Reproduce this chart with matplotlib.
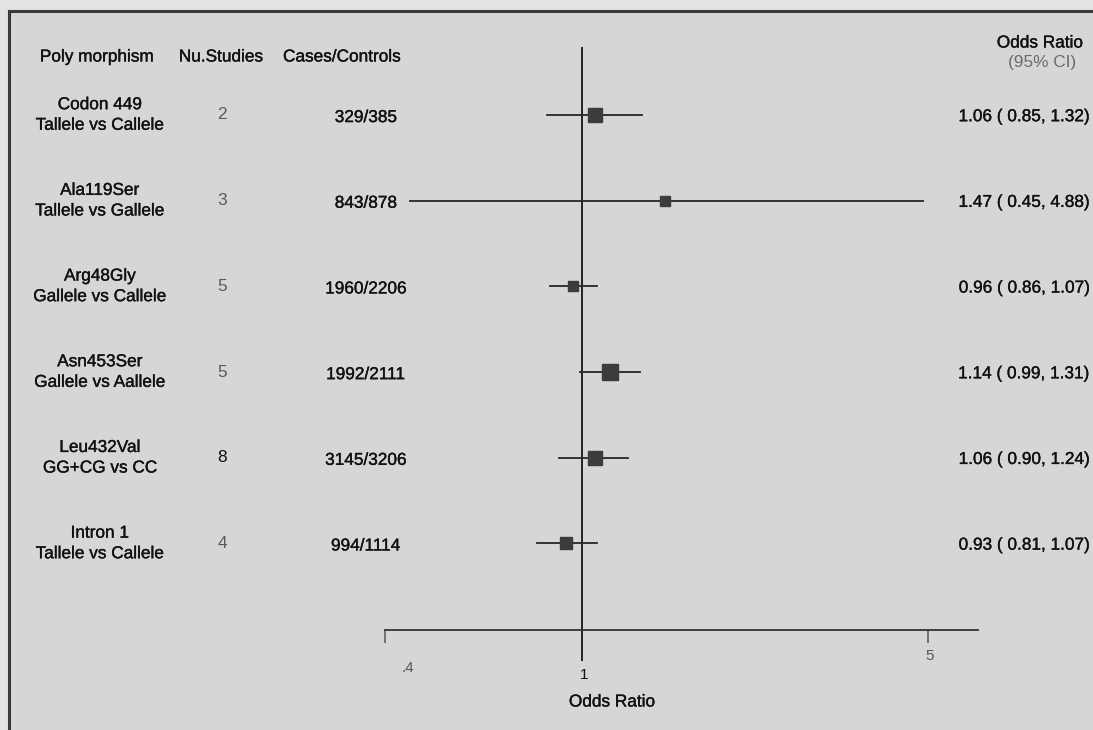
import matplotlib.pyplot as plt
import matplotlib.patheffects as pe
from matplotlib.transforms import blended_transform_factory
from matplotlib.lines import Line2D

plt.rcParams['font.family'] = ['Liberation Sans', 'DejaVu Sans']

# Meta-analysis summary, one entry per polymorphism
snp_names = ['Codon 449', 'Ala119Ser', 'Arg48Gly', 'Asn453Ser', 'Leu432Val', 'Intron 1']
contrasts = ['Tallele vs Callele', 'Tallele vs Gallele', 'Gallele vs Callele',
             'Gallele vs Aallele', 'GG+CG vs CC', 'Tallele vs Callele']
n_studies = [2, 3, 5, 5, 8, 4]
cases_controls = ['329/385', '843/878', '1960/2206', '1992/2111', '3145/3206', '994/1114']
odds_ratio = [1.06, 1.47, 0.96, 1.14, 1.06, 0.93]
ci_low = [0.85, 0.45, 0.86, 0.99, 0.90, 0.81]
ci_high = [1.32, 4.88, 1.07, 1.31, 1.24, 1.07]
box_px = [15, 10, 11, 16, 15, 13]   # square side in pixels (study weight)
count_colors = ['#5a5a5a', '#5a5a5a', '#5a5a5a', '#5a5a5a', '#111111', '#5a5a5a']

W, H = 1093, 730
fig = plt.figure(figsize=(W / 100, H / 100), dpi=100)
fig.patch.set_facecolor('#e3e3e3')

# panel background and its left/top border
fig.patches.append(plt.Rectangle((9 / W, 0), 1, (H - 11) / H, transform=fig.transFigure,
                                 facecolor='#d6d6d6', edgecolor='none', zorder=-5))
fig.add_artist(Line2D([9 / W, 9 / W], [0, (H - 11) / H], color='#3a3a3a', lw=2.2))
fig.add_artist(Line2D([9 / W, 1], [(H - 11) / H, (H - 11) / H], color='#3a3a3a', lw=2.2))

# forest panel: axis line at y=630px, spans x 385..978px
ax = fig.add_axes([385 / W, (H - 630) / H, (978 - 385) / W, (630 - 40) / H])
ax.set_zorder(2)
ax.set_facecolor('none')
ax.set_xscale('log')
ax.set_xlim(0.4, 6.3)
ax.set_ylim(6.01, -0.875)
for s in ['top', 'right', 'left']:
    ax.spines[s].set_visible(False)
ax.spines['bottom'].set_color('#333333')
ax.spines['bottom'].set_linewidth(1.3)
ax.set_yticks([])
ax.set_xticks([0.4, 5])
ax.xaxis.set_minor_locator(plt.NullLocator())
ax.tick_params(axis='x', direction='out', length=9, width=1.1, color='#555555', labelbottom=False)

# line of no effect
ax.axvline(1, ymin=-0.051, ymax=0.986, color='#222222', lw=1.4, clip_on=False)

rows = list(range(len(snp_names)))
for i in rows:
    ax.plot([ci_low[i], ci_high[i]], [i, i], color='#262626', lw=1.3, zorder=2)
    ax.plot(odds_ratio[i], i, marker='s', ms=box_px[i] / 1.389, color='#3c3c3c',
            mec='#3c3c3c', zorder=3)

fs = 12.4
# slightly heavier strokes for the table text
heavy = [pe.withStroke(linewidth=0.25, foreground='#111111')]

# x tick labels
for val, lab, dx, dy in [(0.4, '.4', 23, -38), (1, '1', 2, -45), (5, '5', 1, -26)]:
    ax.annotate(lab, xy=(val, 0), xycoords=('data', 'axes fraction'), xytext=(dx, dy),
                textcoords='offset pixels', ha='center', va='center', fontsize=11,
                color='#555555' if lab != '1' else '#111111')
ax.annotate('Odds Ratio', xy=(1, 0), xycoords=('data', 'axes fraction'), xytext=(30, -72),
            textcoords='offset pixels', ha='center', va='center', fontsize=fs,
            color='#111111', path_effects=heavy)

# table columns to the left and right
tr = blended_transform_factory(fig.transFigure, ax.transData)
for i in rows:
    fig.text(100 / W, i - 0.12, snp_names[i], transform=tr, ha='center', va='center',
             fontsize=fs, color='#111111', path_effects=heavy)
    fig.text(100 / W, i + 0.12, contrasts[i], transform=tr, ha='center', va='center',
             fontsize=fs, color='#111111', path_effects=heavy)
    fig.text(222 / W, i, str(n_studies[i]), transform=tr, ha='center', va='center',
             fontsize=fs, color=count_colors[i])
    fig.text(366 / W, i + 0.03, cases_controls[i], transform=tr, ha='center', va='center',
             fontsize=fs, color='#111111', path_effects=heavy)
    fig.text(1090 / W, i + 0.02, f'{odds_ratio[i]:.2f} ( {ci_low[i]:.2f}, {ci_high[i]:.2f})',
             transform=tr, ha='right', va='center', fontsize=fs, color='#111111',
             path_effects=heavy)

# column headers
hy = (H - 57) / H
for x, label in [(97, 'Poly morphism'), (221, 'Nu.Studies'), (342, 'Cases/Controls')]:
    fig.text(x / W, hy, label, ha='center', va='center', fontsize=fs, color='#111111',
             path_effects=heavy)
fig.text(1040 / W, (H - 43) / H, 'Odds Ratio', ha='center', va='center', fontsize=fs,
         color='#111111', path_effects=heavy)
fig.text(1042 / W, (H - 62) / H, '(95% CI)', ha='center', va='center', fontsize=fs,
         color='#6a6a6a')

fig.savefig('out.png', dpi=100, facecolor=fig.get_facecolor())
